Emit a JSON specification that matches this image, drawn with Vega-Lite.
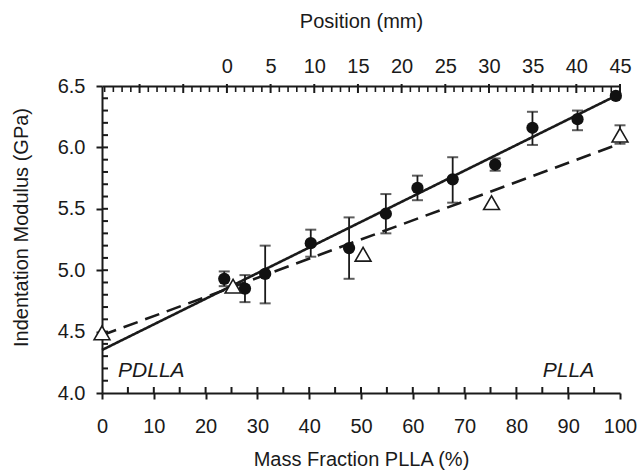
{
  "$schema": "https://vega.github.io/schema/vega-lite/v6.json",
  "width": 518,
  "height": 307,
  "autosize": "none",
  "padding": {"left": 102, "top": 86, "right": 21, "bottom": 78},
  "background": "white",
  "config": {
    "view": {"stroke": null},
    "axis": {
      "labelFont": "Liberation Sans",
      "titleFont": "Liberation Sans",
      "labelFontSize": 20,
      "titleFontSize": 20,
      "titleFontWeight": "normal",
      "labelColor": "#1a1a1a",
      "titleColor": "#1a1a1a",
      "domainColor": "#1a1a1a",
      "tickColor": "#1a1a1a",
      "domainWidth": 2,
      "tickWidth": 2,
      "labelFlush": false,
      "labelOverlap": false,
      "grid": false
    }
  },
  "datasets": {
    "indent": [
      {"mass": 23.6, "gpa": 4.93, "lo": 4.87, "hi": 4.99},
      {"mass": 27.6, "gpa": 4.85, "lo": 4.74, "hi": 4.96},
      {"mass": 31.5, "gpa": 4.97, "lo": 4.73, "hi": 5.20},
      {"mass": 40.3, "gpa": 5.22, "lo": 5.11, "hi": 5.33},
      {"mass": 47.7, "gpa": 5.18, "lo": 4.93, "hi": 5.43},
      {"mass": 54.8, "gpa": 5.46, "lo": 5.30, "hi": 5.62},
      {"mass": 60.9, "gpa": 5.67, "lo": 5.57, "hi": 5.77},
      {"mass": 67.7, "gpa": 5.74, "lo": 5.55, "hi": 5.92},
      {"mass": 75.9, "gpa": 5.86, "lo": 5.81, "hi": 5.91},
      {"mass": 83.1, "gpa": 6.16, "lo": 6.02, "hi": 6.29},
      {"mass": 91.8, "gpa": 6.23, "lo": 6.14, "hi": 6.30},
      {"mass": 99.2, "gpa": 6.42, "lo": 6.40, "hi": 6.44}
    ],
    "nano": [
      {"mass": 0, "gpa": 4.49},
      {"mass": 25.3, "gpa": 4.87},
      {"mass": 50.4, "gpa": 5.13},
      {"mass": 75.2, "gpa": 5.55},
      {"mass": 100, "gpa": 6.10, "lo": 6.03, "hi": 6.18}
    ],
    "fits": [
      {"fit": "solid", "mass": 0, "gpa": 4.35},
      {"fit": "solid", "mass": 99.2, "gpa": 6.42},
      {"fit": "dashed", "mass": 0, "gpa": 4.47},
      {"fit": "dashed", "mass": 100, "gpa": 6.03}
    ],
    "labels": [
      {"label": "PDLLA", "mass": 3.1, "gpa": 4.13},
      {"label": "PLLA", "mass": 85.1, "gpa": 4.13}
    ],
    "pos": [{"pos": 0}, {"pos": 45}],
    "xticks": [{"v": 5}, {"v": 10}, {"v": 15}, {"v": 20}, {"v": 25}, {"v": 30}, {"v": 35}, {"v": 40}, {"v": 45}, {"v": 50}, {"v": 55}, {"v": 60}, {"v": 65}, {"v": 70}, {"v": 75}, {"v": 80}, {"v": 85}, {"v": 90}, {"v": 95}],
    "yticks": [{"v": 4.1}, {"v": 4.2}, {"v": 4.3}, {"v": 4.4}, {"v": 4.5}, {"v": 4.6}, {"v": 4.7}, {"v": 4.8}, {"v": 4.9}, {"v": 5.0}, {"v": 5.1}, {"v": 5.2}, {"v": 5.3}, {"v": 5.4}, {"v": 5.5}, {"v": 5.6}, {"v": 5.7}, {"v": 5.8}, {"v": 5.9}, {"v": 6.0}, {"v": 6.1}, {"v": 6.2}, {"v": 6.3}, {"v": 6.4}],
    "pmaj": [{"p": -10}, {"p": -5}, {"p": 0}, {"p": 5}, {"p": 10}, {"p": 15}, {"p": 20}, {"p": 25}, {"p": 30}, {"p": 35}, {"p": 40}, {"p": 45}],
    "pmin": [{"p": -14}, {"p": -13}, {"p": -12}, {"p": -11}, {"p": -9}, {"p": -8}, {"p": -7}, {"p": -6}, {"p": -4}, {"p": -3}, {"p": -2}, {"p": -1}, {"p": 1}, {"p": 2}, {"p": 3}, {"p": 4}, {"p": 6}, {"p": 7}, {"p": 8}, {"p": 9}, {"p": 11}, {"p": 12}, {"p": 13}, {"p": 14}, {"p": 16}, {"p": 17}, {"p": 18}, {"p": 19}, {"p": 21}, {"p": 22}, {"p": 23}, {"p": 24}, {"p": 26}, {"p": 27}, {"p": 28}, {"p": 29}, {"p": 31}, {"p": 32}, {"p": 33}, {"p": 34}, {"p": 36}, {"p": 37}, {"p": 38}, {"p": 39}, {"p": 41}, {"p": 42}, {"p": 43}, {"p": 44}]
  },
  "resolve": {
    "scale": {"x": "independent", "y": "independent"},
    "axis": {"x": "independent", "y": "independent"}
  },
  "layer": [
    {
      "data": {"name": "xticks"},
      "mark": {"type": "tick", "color": "#1a1a1a", "thickness": 2, "size": 6, "yOffset": -3, "orient": "vertical", "opacity": 1},
      "encoding": {
        "x": {"field": "v", "type": "quantitative", "scale": {"domain": [0, 100], "nice": false, "zero": false}, "axis": null},
        "y": {"datum": 4, "type": "quantitative", "scale": {"domain": [4, 6.5], "nice": false, "zero": false}, "axis": null}
      }
    },
    {
      "data": {"name": "yticks"},
      "mark": {"type": "tick", "color": "#1a1a1a", "thickness": 2, "size": 6, "xOffset": 3, "orient": "horizontal", "opacity": 1},
      "encoding": {
        "y": {"field": "v", "type": "quantitative", "scale": {"domain": [4, 6.5], "nice": false, "zero": false}, "axis": null},
        "x": {"datum": 0, "type": "quantitative", "scale": {"domain": [0, 100], "nice": false, "zero": false}, "axis": null}
      }
    },
    {
      "data": {"name": "pmaj"},
      "mark": {"type": "tick", "color": "#1a1a1a", "thickness": 2, "size": 9, "yOffset": 2.5, "orient": "vertical", "opacity": 1},
      "encoding": {
        "x": {"field": "p", "type": "quantitative", "scale": {"domain": [-14.3, 45], "nice": false, "zero": false}, "axis": null},
        "y": {"datum": 6.5, "type": "quantitative", "scale": {"domain": [4, 6.5], "nice": false, "zero": false}, "axis": null}
      }
    },
    {
      "data": {"name": "pmin"},
      "mark": {"type": "tick", "color": "#1a1a1a", "thickness": 1.6, "size": 6, "yOffset": 3, "orient": "vertical", "opacity": 1},
      "encoding": {
        "x": {"field": "p", "type": "quantitative", "scale": {"domain": [-14.3, 45], "nice": false, "zero": false}, "axis": null},
        "y": {"datum": 6.5, "type": "quantitative", "scale": {"domain": [4, 6.5], "nice": false, "zero": false}, "axis": null}
      }
    },
    {
      "data": {"name": "fits"},
      "mark": {"type": "line", "color": "#1a1a1a", "strokeWidth": 2.6},
      "encoding": {
        "x": {"field": "mass", "type": "quantitative", "scale": {"domain": [0, 100], "nice": false, "zero": false}, "axis": null},
        "y": {"field": "gpa", "type": "quantitative", "scale": {"domain": [4, 6.5], "nice": false, "zero": false}, "axis": null},
        "strokeDash": {"field": "fit", "type": "nominal", "scale": {"domain": ["solid", "dashed"], "range": [[1, 0], [15, 8]]}, "legend": null}
      }
    },
    {
      "data": {"name": "indent"},
      "mark": {"type": "errorbar", "color": "#1a1a1a", "thickness": 1.8, "ticks": {"size": 11, "thickness": 2}},
      "encoding": {
        "x": {"field": "mass", "type": "quantitative", "scale": {"domain": [0, 100], "nice": false, "zero": false}, "axis": null},
        "y": {"field": "lo", "type": "quantitative", "scale": {"domain": [4, 6.5], "nice": false, "zero": false}, "axis": null},
        "y2": {"field": "hi"}
      }
    },
    {
      "data": {"name": "nano"},
      "transform": [{"filter": "isValid(datum.hi)"}],
      "mark": {"type": "errorbar", "color": "#1a1a1a", "thickness": 1.8, "ticks": {"size": 11, "thickness": 2}},
      "encoding": {
        "x": {"field": "mass", "type": "quantitative", "scale": {"domain": [0, 100], "nice": false, "zero": false}, "axis": null},
        "y": {"field": "lo", "type": "quantitative", "scale": {"domain": [4, 6.5], "nice": false, "zero": false}, "axis": null},
        "y2": {"field": "hi"}
      }
    },
    {
      "data": {"name": "indent"},
      "mark": {"type": "point", "filled": true, "color": "#111111", "size": 150, "opacity": 1},
      "encoding": {
        "x": {"field": "mass", "type": "quantitative", "scale": {"domain": [0, 100], "nice": false, "zero": false},
          "axis": {"orient": "bottom", "values": [0, 10, 20, 30, 40, 50, 60, 70, 80, 90, 100], "tickSize": 6, "labelPadding": 33, "labelBaseline": "alphabetic", "title": "Mass Fraction PLLA (%)", "titleBaseline": "alphabetic", "titleY": 72}},
        "y": {"field": "gpa", "type": "quantitative", "scale": {"domain": [4, 6.5], "nice": false, "zero": false},
          "axis": {"orient": "left", "values": [4, 4.5, 5, 5.5, 6, 6.5], "format": ".1f", "tickSize": 6, "labelPadding": 11, "title": "Indentation Modulus (GPa)", "titleBaseline": "alphabetic", "titleX": -75, "titleY": 141, "titleAngle": -90}}
      }
    },
    {
      "data": {"name": "nano"},
      "mark": {"type": "point", "shape": "triangle-up", "filled": true, "fill": "white", "stroke": "#1a1a1a", "strokeWidth": 1.6, "size": 250, "opacity": 1},
      "encoding": {
        "x": {"field": "mass", "type": "quantitative", "scale": {"domain": [0, 100], "nice": false, "zero": false}, "axis": null},
        "y": {"field": "gpa", "type": "quantitative", "scale": {"domain": [4, 6.5], "nice": false, "zero": false}, "axis": null}
      }
    },
    {
      "data": {"name": "labels"},
      "mark": {"type": "text", "font": "Liberation Sans", "fontStyle": "italic", "fontSize": 21, "align": "left", "baseline": "alphabetic", "color": "#1a1a1a"},
      "encoding": {
        "x": {"field": "mass", "type": "quantitative", "scale": {"domain": [0, 100], "nice": false, "zero": false}, "axis": null},
        "y": {"field": "gpa", "type": "quantitative", "scale": {"domain": [4, 6.5], "nice": false, "zero": false}, "axis": null},
        "text": {"field": "label"}
      }
    },
    {
      "data": {"name": "pos"},
      "mark": {"type": "point", "opacity": 0},
      "encoding": {
        "x": {"field": "pos", "type": "quantitative", "scale": {"domain": [-14.3, 45], "nice": false, "zero": false},
          "axis": {"orient": "top", "values": [0, 5, 10, 15, 20, 25, 30, 35, 40, 45], "ticks": false, "labelPadding": 14, "labelBaseline": "alphabetic", "title": "Position (mm)", "titleBaseline": "alphabetic", "titleY": -59}}
      }
    }
  ]
}
